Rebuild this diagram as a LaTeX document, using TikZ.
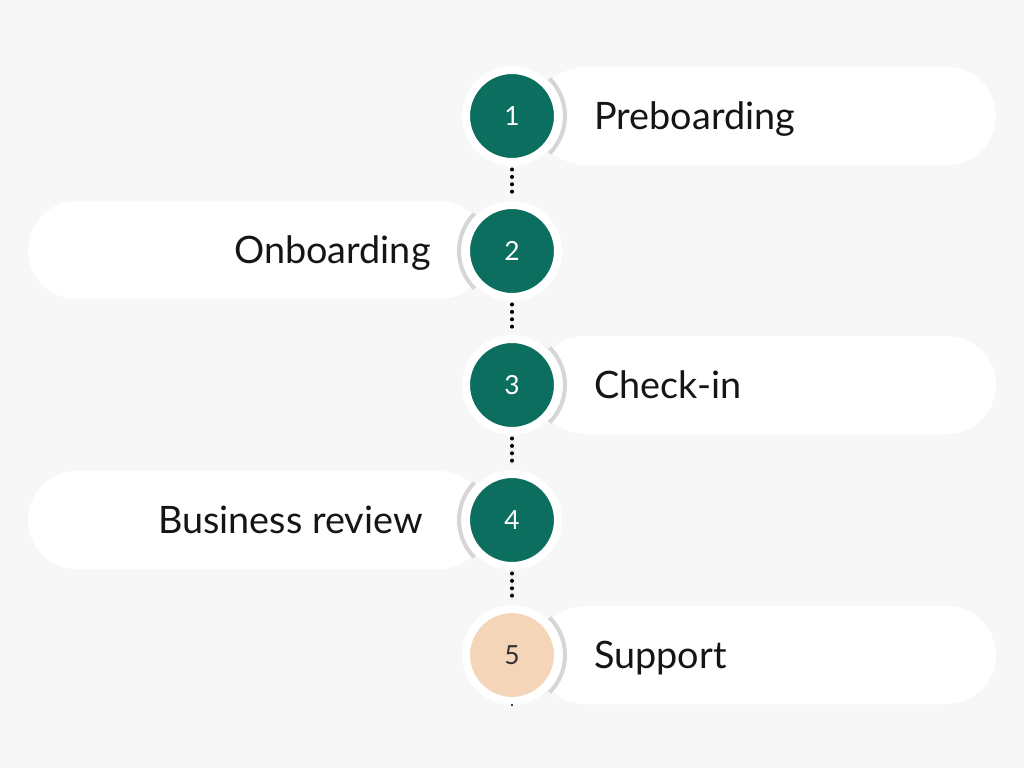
\documentclass[tikz,border=0pt]{standalone}
\usepackage{fontspec}
\setmainfont{Lato}
\definecolor{bgcol}{HTML}{F7F7F7}
\definecolor{stepgreen}{HTML}{0B6E5F}
\definecolor{steppeach}{HTML}{F5D5B8}
\definecolor{arcgray}{HTML}{D6D6D6}
\definecolor{textcol}{HTML}{151515}
\begin{document}
\begin{tikzpicture}[x=0.02cm, y=-0.02cm,
  pill/.style={fill=white, rounded corners=0.98cm, minimum width=9.2cm, minimum height=1.96cm, inner sep=0pt},
  stepdot/.style={circle, fill=stepgreen, draw=white, line width=0.16cm, minimum size=1.84cm, inner sep=0pt,
    text=white, font=\fontsize{15}{17}\selectfont},
  lastdot/.style={stepdot, fill=steppeach, text=black!80},
  arcline/.style={draw=arcgray, line width=0.08cm},
  dotline/.style={line width=2.3pt, line cap=round, dash pattern=on 0pt off 4.2pt, shorten <=2pt, shorten >=2pt},
  lbl/.style={text=textcol, font=\fontsize{21.5}{24}\selectfont, inner sep=0pt}]
\useasboundingbox[fill=bgcol] (0,0) rectangle (1024,768);
% pills
\node[pill] (p1) at (766,116) {};
\node[pill] (p2) at (258,250) {};
\node[pill] (p3) at (766,385) {};
\node[pill] (p4) at (258,520) {};
\node[pill] (p5) at (766,655) {};
% gray arcs
\draw[arcline] (512,116) ++(-45:1.06cm) arc[start angle=-45, end angle=45, radius=1.06cm];
\draw[arcline] (512,251) ++(135:1.06cm) arc[start angle=135, end angle=225, radius=1.06cm];
\draw[arcline] (512,385) ++(-45:1.06cm) arc[start angle=-45, end angle=45, radius=1.06cm];
\draw[arcline] (512,520) ++(135:1.06cm) arc[start angle=135, end angle=225, radius=1.06cm];
\draw[arcline] (512,655) ++(-45:1.06cm) arc[start angle=-45, end angle=45, radius=1.06cm];
% steps
\node[stepdot] (c1) at (512,116) {1};
\node[stepdot] (c2) at (512,251) {2};
\node[stepdot] (c3) at (512,385) {3};
\node[stepdot] (c4) at (512,520) {4};
\node[lastdot] (c5) at (512,655) {5};
\coordinate (end) at (512,708);
\draw[dotline] (c1) -- (c2);
\draw[dotline] (c2) -- (c3);
\draw[dotline] (c3) -- (c4);
\draw[dotline] (c4) -- (c5);
\draw[dotline, line width=1.4pt, shorten <=0pt, shorten >=0pt] (c5) -- (end);
% labels
\node[lbl, anchor=base west] (t1) at (594,129) {Preboarding};
\node[lbl, anchor=base east] (t2) at (431,263) {Onboarding};
\node[lbl, anchor=base west] (t3) at (594,398) {Check-in};
\node[lbl, anchor=base east] (t4) at (423,533) {Business review};
\node[lbl, anchor=base west] (t5) at (594,668) {Support};
\end{tikzpicture}
\end{document}
